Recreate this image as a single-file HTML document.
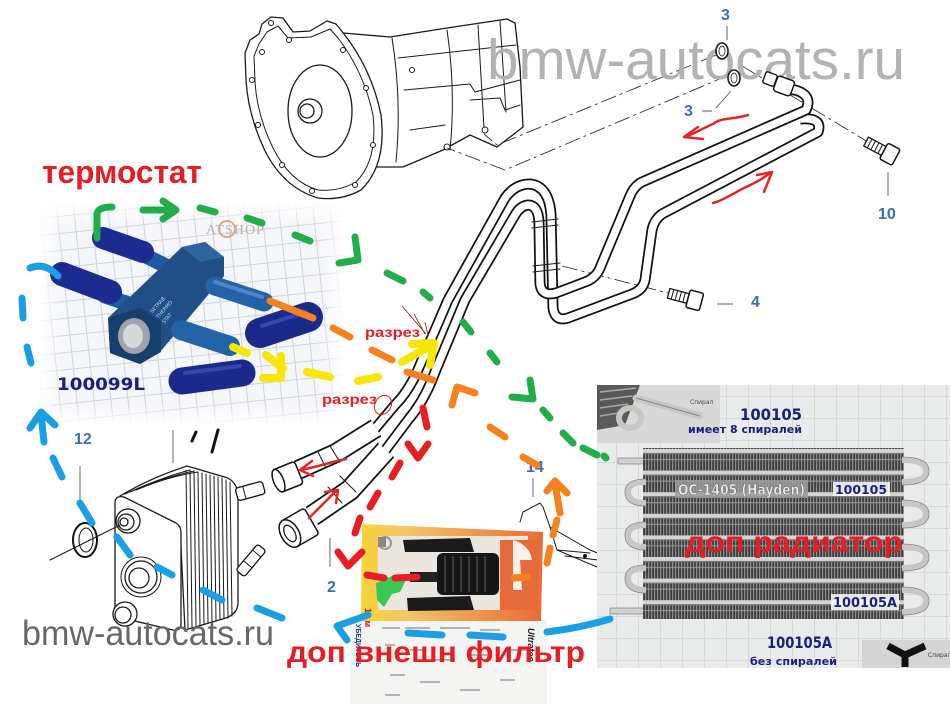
<!DOCTYPE html>
<html lang="ru">
<head>
<meta charset="utf-8">
<style>
html,body{margin:0;padding:0;background:#fff;}
svg{display:block;}
.ln{fill:#fff;stroke:#1a1a1a;stroke-width:1.3;stroke-linejoin:round;stroke-linecap:round;}
.tn{fill:none;stroke:#1a1a1a;stroke-width:1;stroke-linecap:round;}
.dd{fill:none;stroke:#333;stroke-width:0.9;stroke-dasharray:16 4 3 4;}
.num{font-family:"Liberation Sans","DejaVu Sans",sans-serif;font-size:16px;fill:#3d6eb0;font-weight:bold;}
.red{font-family:"Liberation Sans","DejaVu Sans",sans-serif;font-weight:bold;fill:#e31e25;}
.nv{font-family:"DejaVu Sans","Liberation Sans",sans-serif;font-weight:bold;fill:#1b1f7c;}
.g{fill:none;stroke:#22ad4b;stroke-width:7;stroke-linecap:round;stroke-linejoin:round;}
.b{fill:none;stroke:#1c9fe2;stroke-width:7;stroke-linecap:round;stroke-linejoin:round;}
.o{fill:none;stroke:#f58220;stroke-width:7;stroke-linecap:round;stroke-linejoin:round;}
.y{fill:none;stroke:#f6e600;stroke-width:8;stroke-linecap:round;stroke-linejoin:round;}
.r{fill:none;stroke:#e81e25;stroke-width:7;stroke-linecap:round;stroke-linejoin:round;}
.rt{fill:none;stroke:#e0262b;stroke-width:2.5;stroke-linecap:round;stroke-linejoin:round;}
.tubeo{fill:none;stroke:#111;stroke-width:11;stroke-linecap:butt;stroke-linejoin:round;}
.tubei{fill:none;stroke:#fff;stroke-width:7.5;stroke-linecap:butt;stroke-linejoin:round;}
</style>
</head>
<body>
<svg width="950" height="709" viewBox="0 0 950 709" xmlns="http://www.w3.org/2000/svg">
<defs>
  <pattern id="grid" width="17" height="17" patternUnits="userSpaceOnUse" patternTransform="rotate(-6)">
    <rect width="17" height="17" fill="#f5f6f9"/>
    <path d="M0 0.5H17M0.5 0V17" stroke="#cdd1dc" stroke-width="1"/>
  </pattern>
  <filter id="blur8"><feGaussianBlur stdDeviation="9"/></filter>
  <mask id="tmask">
    <rect x="52" y="214" width="280" height="200" fill="#fff" filter="url(#blur8)"/>
  </mask>
  <linearGradient id="card" x1="0" y1="0" x2="1" y2="0">
    <stop offset="0" stop-color="#f6d438"/>
    <stop offset="0.25" stop-color="#f3c66a"/>
    <stop offset="1" stop-color="#ea6a38"/>
  </linearGradient>
  <pattern id="fins" width="3" height="21.6" patternUnits="userSpaceOnUse" y="449">
    <rect width="3" height="21.6" fill="#3e3e3e"/>
    <rect width="1.2" height="21.6" fill="#8c8c8c"/>
    <rect y="0" width="3" height="4" fill="#d4d4d4"/>
    <rect y="4" width="3" height="1.2" fill="#777"/>
    <rect y="10" width="3" height="1" fill="#9a9a9a"/>
  </pattern>
  <pattern id="rgrid" width="22" height="22" patternUnits="userSpaceOnUse">
    <rect width="22" height="22" fill="#e9ebea"/>
    <path d="M0 0.5H22M0.5 0V22" stroke="#d6d9d8" stroke-width="1"/>
  </pattern>
</defs>

<!-- ========== TRANSMISSION ========== -->
<g>
  <path class="ln" d="M343 33 L390 37 L447 28 L507 19 L515 23 L520 67 L523 127 L497 147 L470 135 L443 150 L403 167 L377 167 Z"/>
  <path class="tn" d="M392 38 Q402 100 396 162 M447 30 Q456 90 450 150 M478 25 L484 128 M500 21 L506 112 M398 58 L516 45 M404 90 L470 84 L475 92 L520 80 M410 130 L445 125 M470 100 L500 98 L505 110 L520 105"/>
  <path class="ln" d="M262 24 L271 17 L283 18 L293 32 L310 31 L327 21 L336 24 L344 34 Q372 70 381 115 Q387 165 361 190 Q341 201 318 198 Q284 188 265 151 Q248 115 246 80 L245 53 L250 40 L259 34 Z"/>
  <path class="tn" d="M267 32 L278 26 L288 38 L311 37 L330 29 L338 38 Q364 72 373 115 Q378 160 356 182 Q338 192 318 190 Q290 182 273 148 Q257 115 255 82 L254 56 L259 44 Z"/>
  <ellipse class="ln" cx="320" cy="111" rx="32" ry="46"/>
  <circle class="ln" cx="310" cy="111" r="12"/>
  <circle class="ln" cx="307" cy="111" r="7"/>
  <g fill="#fff" stroke="#1a1a1a" stroke-width="1">
    <circle cx="271" cy="23" r="2.5"/><circle cx="262" cy="52" r="2.5"/><circle cx="252" cy="80" r="2.5"/>
    <circle cx="258" cy="125" r="2.5"/><circle cx="282" cy="165" r="2.5"/><circle cx="312" cy="191" r="2.5"/>
    <circle cx="355" cy="185" r="2.5"/><circle cx="373" cy="145" r="2.5"/><circle cx="366" cy="88" r="2.5"/>
    <circle cx="343" cy="50" r="2.5"/><circle cx="289" cy="40" r="2.5"/><circle cx="412" cy="70" r="2.5"/>
    <circle cx="485" cy="130" r="3"/><circle cx="447" cy="147" r="3"/>
  </g>
</g>

<!-- dash-dot leader lines -->
<path class="dd" d="M716 55 L497 145 L484 134"/>
<path class="dd" d="M729 75 L505 170 L447 148"/>
<path class="dd" d="M742 66 L868 142"/>
<path class="dd" d="M562 266 L672 294"/>

<!-- watermark top -->
<text x="487" y="79" font-family="'Liberation Sans',sans-serif" font-size="57" fill="#b2b2b2" textLength="418" lengthAdjust="spacingAndGlyphs">bmw-autocats.ru</text>

<!-- rings 3 -->
<ellipse cx="722" cy="51" rx="6" ry="8" fill="#fff" stroke="#1a1a1a" stroke-width="1.6"/>
<ellipse cx="722" cy="51" rx="3" ry="5" fill="#fff" stroke="#1a1a1a" stroke-width="0.8"/>
<ellipse cx="734" cy="78" rx="6" ry="8" fill="#fff" stroke="#1a1a1a" stroke-width="1.6"/>
<ellipse cx="734" cy="78" rx="3" ry="5" fill="#fff" stroke="#1a1a1a" stroke-width="0.8"/>

<!-- ========== PIPES ========== -->
<g>
  <path class="tubeo" d="M800 119 Q823 117 818 132 L662 214 Q654 220 652 230 L645 280 Q643 290 632 294 L568 318 Q555 322 553 308 L551 215 Q549 186 530 184 Q515 184 505 198 L448 300 L420 365 Q410 390 395 405 L374 430"/>
  <path class="tubei" d="M800 119 Q823 117 818 132 L662 214 Q654 220 652 230 L645 280 Q643 290 632 294 L568 318 Q555 322 553 308 L551 215 Q549 186 530 184 Q515 184 505 198 L448 300 L420 365 Q410 390 395 405 L374 430"/>
  <path class="tubeo" d="M780 88 L795 90 Q813 95 806 110 L642 182 Q634 186 630 196 L600 268 Q596 278 585 282 L556 293 Q541 297 540 283 L539 222 Q538 205 528 205 Q520 206 515 215 L465 300 L435 372 Q425 400 408 420 L384 452"/>
  <path class="tubei" d="M780 88 L795 90 Q813 95 806 110 L642 182 Q634 186 630 196 L600 268 Q596 278 585 282 L556 293 Q541 297 540 283 L539 222 Q538 205 528 205 Q520 206 515 215 L465 300 L435 372 Q425 400 408 420 L384 452"/>
  <path class="tn" stroke-width="1.4" d="M532 222 L558 219 M532 228 L558 225 M533 266 L560 263 M533 272 L560 269"/>
  <rect x="764" y="73" width="12" height="12" rx="2" transform="rotate(20 770 79)" fill="#fff" stroke="#111" stroke-width="1.4"/>
  <rect x="775" y="78" width="18" height="16" rx="3" transform="rotate(20 784 86)" fill="#fff" stroke="#111" stroke-width="1.4"/>
  <path d="M376 428 L336 453 L298 470" fill="none" stroke="#111" stroke-width="20"/>
  <path d="M376 428 L336 453 L298 470" fill="none" stroke="#fff" stroke-width="16.5"/>
  <path d="M386 450 L350 490 L312 516" fill="none" stroke="#111" stroke-width="22"/>
  <path d="M386 450 L350 490 L312 516" fill="none" stroke="#fff" stroke-width="18.5"/>
  <path class="tn" stroke-width="1.3" d="M330 446 L340 462 M318 452 L326 468 M340 476 L356 492 M328 487 L342 503"/>
  <g transform="rotate(-22 285 478)">
    <rect x="276" y="466" width="24" height="24" rx="3" fill="#fff" stroke="#111" stroke-width="1.5"/>
    <ellipse cx="278" cy="478" rx="5" ry="12" fill="#fff" stroke="#111" stroke-width="1.5"/>
  </g>
  <g transform="rotate(-30 296 530)">
    <rect x="286" y="515" width="28" height="30" rx="3" fill="#fff" stroke="#111" stroke-width="1.5"/>
    <ellipse cx="289" cy="530" rx="9" ry="15" fill="#fff" stroke="#111" stroke-width="1.5"/>
    <ellipse cx="289" cy="530" rx="5" ry="9" fill="#fff" stroke="#111" stroke-width="1.2"/>
  </g>
</g>

<!-- bolts -->
<g transform="rotate(28 882 150)">
  <rect x="864" y="145" width="20" height="10" fill="#fff" stroke="#111" stroke-width="1.3"/>
  <path class="tn" d="M868 145 V155 M872 145 V155 M876 145 V155 M880 145 V155"/>
  <rect x="884" y="141" width="14" height="18" rx="2" fill="#fff" stroke="#111" stroke-width="1.5"/>
</g>
<g transform="rotate(15 686 298)">
  <rect x="668" y="293" width="20" height="10" fill="#fff" stroke="#111" stroke-width="1.3"/>
  <path class="tn" d="M672 293 V303 M676 293 V303 M680 293 V303 M684 293 V303"/>
  <rect x="688" y="289" width="14" height="18" rx="2" fill="#fff" stroke="#111" stroke-width="1.5"/>
</g>

<!-- leaders + numbers -->
<path d="M727 26 V40 M702 111 H712 M716 108 L731 91 M888 172 V196 M717 304 H733 M80 466 V500 M330 538 V567 M533 478 V497 M173 430 V463" stroke="#555" stroke-width="0.9" fill="none"/>
<text class="num" x="721" y="20">3</text>
<text class="num" x="684" y="116">3</text>
<text class="num" x="878" y="219">10</text>
<text class="num" x="751" y="307">4</text>
<text class="num" x="74" y="444">12</text>
<text class="num" x="327" y="592">2</text>
<text class="num" x="526" y="472">14</text>

<!-- red flow arrows top -->
<path class="rt" d="M748 115 C732 120 722 117 713 124 C703 128 696 133 685 137 M698 127 L684 137 L703 139"/>
<path class="rt" d="M713 203 C724 200 728 196 735 193 C746 186 756 184 770 173 M757 175 L772 172 L764 192"/>

<!-- ========== OIL COOLER ========== -->
<g>
  <path class="ln" d="M120 496 Q150 478 187 466 L228 478 Q238 484 238 496 L238 604 Q237 614 226 618 L185 630 L180 527 Z"/>
  <g class="tn" stroke-width="0.9">
    <path d="M186 470 L188 628 M190 470 L192 627 M194 471 L196 626 M198 472 L200 625 M202 473 L204 624 M206 474 L208 623 M210 475 L212 622 M214 476 L216 621 M218 477 L220 620 M222 478 L224 619 M226 480 L228 618 M230 482 L232 616"/>
    <path d="M125 494 Q160 478 190 470 M130 492 Q165 477 194 471 M136 490 Q170 476 198 472"/>
  </g>
  <path class="ln" stroke-width="1.6" d="M115 503 Q115 495 124 497 L176 523 Q181 526 181 533 L181 624 Q181 631 173 630 L122 618 Q115 616 115 609 Z"/>
  <circle class="ln" cx="128" cy="521" r="12"/><circle class="ln" cx="126" cy="522" r="8"/><circle class="ln" cx="124" cy="522" r="4"/>
  <circle class="tn" cx="141" cy="577" r="20" stroke="#888"/>
  <circle class="ln" cx="141" cy="577" r="16"/><circle class="ln" cx="139" cy="578" r="10"/>
  <circle class="ln" cx="125" cy="614" r="12"/><circle class="ln" cx="123" cy="615" r="8"/>
  <g transform="rotate(-15 252 490)"><rect x="236" y="484" width="28" height="13" rx="3" fill="#fff" stroke="#111" stroke-width="1.3"/><path class="tn" d="M244 484 V497"/></g>
  <g transform="rotate(-50 252 560)"><rect x="234" y="554" width="34" height="11" rx="3" fill="#fff" stroke="#111" stroke-width="1.3"/><path class="tn" d="M246 554 V565 M260 554 V565"/></g>
  <ellipse cx="85" cy="540" rx="12" ry="17" fill="#fff" stroke="#111" stroke-width="2"/>
  <ellipse cx="86" cy="540" rx="7" ry="12" fill="#fff" stroke="#111" stroke-width="1"/>
  <path class="tn" d="M50 560 L120 525" stroke-width="0.9"/>
  <path d="M196 432 L192 441 M218 430 L212 452" stroke="#111" stroke-width="3" stroke-linecap="round"/>
</g>

<!-- red arrows at fittings -->
<path class="rt" d="M346 459 C330 462 318 467 300 470 M312 461 L300 470 L313 476"/>
<path class="rt" d="M309 518 L337 490 M325 492 L338 490 L336 503"/>

<!-- bracket 14 -->
<path class="tn" stroke-width="2" d="M520 522 L523 512 L540 503 L543 507 L550 527 L590 550 M550 527 L557 550 L597 567 M590 550 L600 554"/>
<path class="tn" d="M557 550 L590 553 M565 556 L598 560"/>
<circle cx="585" cy="556" r="2" fill="#111"/>

<!-- watermark bottom -->
<text x="22" y="645" font-family="'Liberation Sans',sans-serif" font-size="35" fill="#676767" textLength="252" lengthAdjust="spacingAndGlyphs">bmw-autocats.ru</text>

<!-- ========== THERMOSTAT PHOTO ========== -->
<g mask="url(#tmask)">
  <rect x="40" y="203" width="305" height="222" fill="url(#grid)"/>
</g>
<text x="206" y="234" font-family="'Liberation Serif',serif" font-size="14" fill="#b9b3ad" letter-spacing="1">ATSHOP</text>
<ellipse cx="227" cy="229" rx="8" ry="8" fill="none" stroke="#d9a98a" stroke-width="2"/>
<g stroke-linecap="round">
  <line x1="140" y1="253" x2="170" y2="268" stroke="#1e5aa2" stroke-width="15"/>
  <line x1="105" y1="296" x2="135" y2="306" stroke="#1e5aa2" stroke-width="15"/>
  <path d="M108 318 L182 247 L205 242 L224 257 L224 276 L160 352 L140 364 L110 353 Z" fill="#1f4f86"/>
  <path d="M182 247 L205 242 L224 257 L200 262 Z" fill="#2d64a0"/>
  <path d="M108 318 L140 308 L161 322 L161 352 L140 364 L110 353 Z" fill="#173f6c"/>
  <ellipse cx="134" cy="336" rx="16" ry="18" fill="#9ea4aa"/>
  <ellipse cx="133" cy="336" rx="10" ry="12" fill="#d6d9dc"/>
  <line x1="215" y1="286" x2="264" y2="302" stroke="#2462a8" stroke-width="19"/>
  <line x1="181" y1="330" x2="230" y2="346" stroke="#2462a8" stroke-width="20"/>
  <line x1="215" y1="282" x2="262" y2="297" stroke="#4d86c8" stroke-width="4"/>
  <line x1="103" y1="238" x2="143" y2="252" stroke="#1b2c8e" stroke-width="22"/>
  <line x1="62" y1="274" x2="110" y2="292" stroke="#1b2c8e" stroke-width="24"/>
  <line x1="260" y1="333" x2="308" y2="317" stroke="#1b2a8a" stroke-width="30"/>
  <line x1="182" y1="381" x2="242" y2="373" stroke="#1b2a8a" stroke-width="27"/>
  <line x1="262" y1="326" x2="306" y2="312" stroke="#3447ad" stroke-width="4"/>
  <line x1="185" y1="373" x2="240" y2="366" stroke="#3447ad" stroke-width="4"/>
</g>
<g font-family="'DejaVu Sans',sans-serif" font-size="5" fill="#c8d4e8" transform="rotate(-48 175 300)">
  <text x="150" y="292">SETRAB</text><text x="150" y="300">THERMO</text><text x="150" y="308">STAT</text>
</g>
<text class="nv" x="57" y="390" font-size="17" textLength="88" lengthAdjust="spacingAndGlyphs">100099L</text>

<!-- ========== RADIATOR PHOTO ========== -->
<rect x="597" y="385" width="353" height="283" fill="url(#rgrid)"/>
<rect x="597" y="385" width="123" height="58" fill="#d7d8d7"/>
<path d="M597 385 L640 385 L625 425 L597 430 Z" fill="#5a5a5a"/>
<path d="M600 392 L636 388 M600 400 L632 396 M600 408 L628 404 M600 416 L625 412" stroke="#aaa" stroke-width="1.5"/>
<ellipse cx="630" cy="418" rx="11" ry="10" fill="none" stroke="#c8c6c0" stroke-width="6"/>
<path d="M636 398 L700 416" stroke="#c9c7c2" stroke-width="7" stroke-linecap="round"/>
<path d="M636 398 L700 416" stroke="#8a8784" stroke-width="1"/>
<text x="690" y="404" font-family="'DejaVu Sans',sans-serif" font-size="6" fill="#444">Спирал</text>
<rect x="618" y="458" width="30" height="6" fill="#cfcfcf" stroke="#888" stroke-width="0.8"/>
<rect x="610" y="608" width="38" height="6" fill="#cfcfcf" stroke="#888" stroke-width="0.8"/>
<rect x="643" y="448" width="261" height="171" fill="url(#fins)"/>
<g fill="none" stroke="#c6c6c6" stroke-width="6">
  <path d="M646 482 Q628 482 628 492 Q628 503 646 503"/>
  <path d="M646 525 Q628 525 628 535 Q628 547 646 547"/>
  <path d="M646 568 Q628 568 628 578 Q628 590 646 590"/>
  <path d="M902 460 Q926 460 926 471 Q926 482 902 482"/>
  <path d="M902 503 Q926 503 926 514 Q926 525 902 525"/>
  <path d="M902 547 Q926 547 926 557 Q926 568 902 568"/>
  <path d="M902 590 Q926 590 926 601 Q926 612 902 612"/>
</g>
<g fill="none" stroke="#8a8a8a" stroke-width="0.8">
  <path d="M646 479 Q625 479 625 492 Q625 506 646 506"/>
  <path d="M646 522 Q625 522 625 535 Q625 550 646 550"/>
  <path d="M646 565 Q625 565 625 578 Q625 593 646 593"/>
  <path d="M902 457 Q929 457 929 471 Q929 485 902 485"/>
  <path d="M902 500 Q929 500 929 514 Q929 528 902 528"/>
  <path d="M902 544 Q929 544 929 557 Q929 571 902 571"/>
  <path d="M902 587 Q929 587 929 601 Q929 615 902 615"/>
</g>
<rect x="862" y="640" width="88" height="28" fill="#d4d5d4"/>
<path d="M888 646 L905 655 L925 646 M905 655 L905 667" stroke="#111" stroke-width="7" stroke-linejoin="round" fill="none"/>
<text x="928" y="657" font-family="'DejaVu Sans',sans-serif" font-size="6" fill="#444">Спирал</text>
<text class="nv" x="740" y="420" font-size="16" textLength="62" lengthAdjust="spacingAndGlyphs">100105</text>
<text class="nv" x="688" y="433" font-size="10.5" textLength="114" lengthAdjust="spacingAndGlyphs">имеет 8 спиралей</text>
<rect x="675" y="480" width="133" height="18" fill="#9b9b9b" opacity="0.85"/>
<text x="678" y="495" font-family="'DejaVu Sans',sans-serif" font-weight="bold" font-size="15" fill="#ececec" stroke="#666" stroke-width="0.5" textLength="127" lengthAdjust="spacingAndGlyphs">OC-1405 (Hayden)</text>
<rect x="833" y="482" width="57" height="14" fill="#fff" opacity="0.85"/>
<text class="nv" x="835" y="494" font-size="12" textLength="52" lengthAdjust="spacingAndGlyphs">100105</text>
<rect x="831" y="594" width="68" height="16" fill="#fff" opacity="0.85"/>
<text class="nv" x="833" y="607" font-size="13" textLength="64" lengthAdjust="spacingAndGlyphs">100105A</text>
<text class="nv" x="767" y="648" font-size="16" textLength="65" lengthAdjust="spacingAndGlyphs">100105A</text>
<text class="nv" x="750" y="665" font-size="10.5" textLength="87" lengthAdjust="spacingAndGlyphs">без спиралей</text>

<!-- ========== FILTER PACKAGE ========== -->
<rect x="350" y="620" width="197" height="84" fill="#f4f5f3"/>
<path d="M362 524 L543 532 L541 621 L361 621 Z" fill="url(#card)"/>
<rect x="378" y="536" width="150" height="74" fill="#ebe7df"/>
<rect x="500" y="540" width="38" height="70" fill="#e66a3a"/>
<path d="M513 540 Q530 545 532 560 L520 560 L522 590 L513 590 Z" fill="#fff" opacity="0.9"/>
<rect x="437" y="553" width="62" height="42" rx="6" fill="#161616"/>
<path d="M445 556 V592 M453 556 V592 M461 556 V592 M469 556 V592 M477 556 V592 M485 556 V592" stroke="#474747" stroke-width="1.5"/>
<path d="M403 540 L470 538 L474 552 L405 552 Z" fill="#1b1b1b"/>
<path d="M407 598 L470 596 L474 610 L408 611 Z" fill="#1b1b1b"/>
<rect x="410" y="572" width="27" height="10" fill="#222"/>
<circle cx="385" cy="543" r="6" fill="none" stroke="#999" stroke-width="2"/>
<rect x="378" y="537" width="8" height="10" fill="#888"/>
<path d="M376 583 L392 576 L406 580 L400 592 L392 594 L384 607 L377 600 Z" fill="#3cc850"/>
<text transform="translate(365 608) rotate(90)" font-family="'Liberation Sans',sans-serif" font-size="9" fill="#c01818" font-weight="bold">10 м</text>
<text transform="translate(356 624) rotate(90)" font-family="'Liberation Sans',sans-serif" font-size="7" fill="#1a3a9a" font-weight="bold">УБЕДИТЕСЬ</text>
<g stroke="#8a8a8a" stroke-width="1.2">
  <path d="M382 628 H400 M405 628 H430 M440 628 H470 M480 630 H500 M385 645 H395 M410 650 H425 M435 660 H455 M470 655 H490 M390 675 H405 M420 682 H440 M460 690 H480 M500 680 H515 M510 650 H535 M385 695 H400"/>
</g>
<text transform="translate(528 628) rotate(90)" font-family="'Liberation Sans',sans-serif" font-size="9" fill="#222" font-weight="bold" font-style="italic">Ultratec</text>

<!-- ========== COLOURED DASHED FLOW LINES ========== -->
<path class="g" d="M97 238 L97 214 Q98 207 112 207"/>
<path class="g" d="M143 210 L174 210 M163 201 L176 210 L163 219"/>
<path class="g" d="M200 208 L215 212 M247 218 L262 223 M295 235 L310 241"/>
<path class="g" d="M355 237 L358 260 L339 263"/>
<path class="g" d="M387 273 L403 281 M423 292 L430 298 M463 322 L471 332 M490 353 L497 362"/>
<path class="g" d="M530 380 L533 399 L512 397"/>
<path class="g" d="M543 410 L550 418 M563 433 L573 443 M583 448 L597 455 M604 456 L606 458"/>
<path class="b" d="M30 268 Q45 262 58 276"/>
<path class="b" d="M22 298 L23 318 M27 347 L31 363"/>
<path class="b" d="M30 428 L41 412 L55 425 M41 414 L44 442"/>
<path class="b" d="M53 458 L62 477 M80 503 L92 523 M117 537 L130 555 M157 567 L172 575 M203 590 L222 600 M257 608 L282 618"/>
<path class="b" d="M368 615 L337 626 L347 640"/>
<path class="b" d="M408 633 L442 635 M470 635 L503 637 M547 632 Q580 628 610 619"/>
<path class="o" d="M270 301 L313 318 M333 328 L350 337 M372 350 L392 360 M407 372 L433 380"/>
<path class="o" d="M452 405 L457 387 L475 393"/>
<path class="o" d="M490 427 L505 437 M523 457 L537 465"/>
<path class="o" d="M547 491 L555 481 L567 493 M555 483 L560 513"/>
<path class="o" d="M557 520 L553 535 M550 548 L547 563 M527 577 L514 578"/>
<path class="y" d="M233 347 L247 353"/>
<path class="y" d="M266 355 L283 368 M281 356 L281 378 L263 378"/>
<path class="y" d="M307 372 L330 377 M358 381 L378 377"/>
<path class="y" d="M402 362 L432 345 M412 344 L434 343 L430 365"/>
<path class="r" d="M423 408 L427 427"/>
<path class="r" d="M408 444 L418 458 L428 444"/>
<path class="r" d="M400 463 L392 477 M378 493 L370 507 M360 518 L355 533"/>
<path class="r" d="M338 552 L348 566 L362 552"/>
<path class="r" d="M367 575 L384 578 M395 578 L417 577"/>

<!-- разрез annotations -->
<path d="M402 306 L426 334 M414 314 L425 334 M425 322 L428 335" stroke="#8a1a1a" stroke-width="0.8" fill="none"/>
<ellipse cx="383" cy="405" rx="8" ry="10" transform="rotate(30 383 405)" fill="none" stroke="#d02020" stroke-width="1"/>
<text class="red" x="365" y="337" font-size="14" textLength="55" lengthAdjust="spacingAndGlyphs">разрез</text>
<text class="red" x="322" y="404" font-size="14" textLength="55" lengthAdjust="spacingAndGlyphs">разрез</text>

<!-- big red labels -->
<text class="red" x="42" y="183" font-size="32" textLength="160" lengthAdjust="spacingAndGlyphs">термостат</text>
<text class="red" x="685" y="552" font-size="30" textLength="218" lengthAdjust="spacingAndGlyphs">доп радиатор</text>
<text class="red" x="287" y="662" font-size="30" textLength="298" lengthAdjust="spacingAndGlyphs">доп внешн фильтр</text>
</svg>
</body>
</html>
